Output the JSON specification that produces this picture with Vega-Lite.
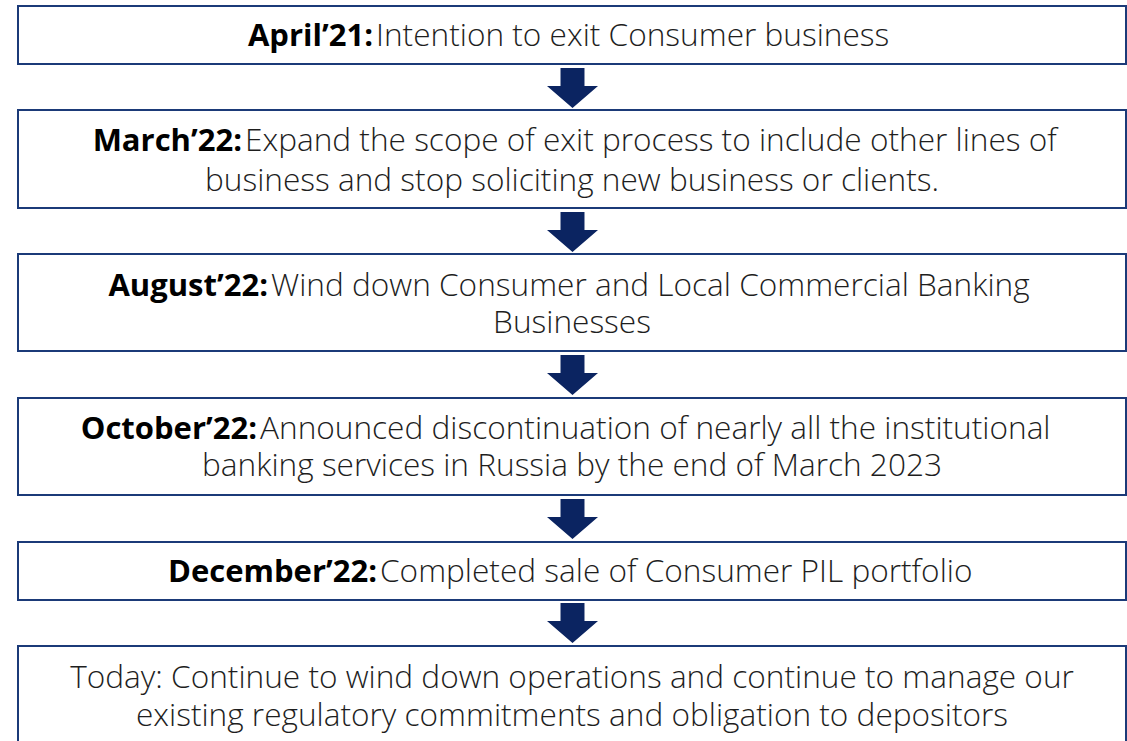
{
  "$schema": "https://vega.github.io/schema/vega-lite/v6.json",
  "width": 1127,
  "height": 741,
  "padding": 0,
  "autosize": {"type": "none"},
  "background": "white",
  "config": {"view": {"stroke": null}},
  "datasets": {
    "boxes": [
      {"x0": 18, "x1": 1126, "y0": 6, "y1": 64},
      {"x0": 18, "x1": 1126, "y0": 110, "y1": 208},
      {"x0": 18, "x1": 1126, "y0": 254, "y1": 351},
      {"x0": 18, "x1": 1126, "y0": 398, "y1": 495},
      {"x0": 18, "x1": 1126, "y0": 542, "y1": 600},
      {"x0": 18, "x1": 1126, "y0": 646, "y1": 770}
    ],
    "arrows": [
      {"x": 572.5, "y": 88},
      {"x": 572.5, "y": 232},
      {"x": 572.5, "y": 375},
      {"x": 572.5, "y": 519},
      {"x": 572.5, "y": 623}
    ],
    "bold": [
      {"x": 373, "y": 37, "label": "April’21:"},
      {"x": 242, "y": 142, "label": "March’22:"},
      {"x": 268, "y": 287, "label": "August’22:"},
      {"x": 257, "y": 430, "label": "October’22:"},
      {"x": 377, "y": 573, "label": "December’22:"}
    ],
    "plain": [
      {"x": 376, "y": 37, "label": "Intention to exit Consumer business"},
      {"x": 245, "y": 142, "label": "Expand the scope of exit process to include other lines of"},
      {"x": 271, "y": 287, "label": "Wind down Consumer and Local Commercial Banking"},
      {"x": 260, "y": 430, "label": "Announced discontinuation of nearly all the institutional"},
      {"x": 380, "y": 573, "label": "Completed sale of Consumer PIL portfolio"}
    ],
    "centered": [
      {"x": 572, "y": 182, "label": "business and stop soliciting new business or clients."},
      {"x": 572, "y": 324, "label": "Businesses"},
      {"x": 572, "y": 467, "label": "banking services in Russia by the end of March 2023"},
      {"x": 572, "y": 679, "label": "Today: Continue to wind down operations and continue to manage our"},
      {"x": 572, "y": 717, "label": "existing regulatory commitments and obligation to depositors"}
    ]
  },
  "layer": [
    {
      "data": {"name": "boxes"},
      "mark": {"type": "rect", "fill": "white", "stroke": "#1b3a78", "strokeWidth": 2, "clip": true},
      "encoding": {
        "x": {"field": "x0", "type": "quantitative", "scale": {"domain": [0, 1127], "nice": false, "zero": false}, "axis": null},
        "x2": {"field": "x1"},
        "y": {"field": "y0", "type": "quantitative", "scale": {"domain": [0, 741], "nice": false, "zero": false, "reverse": true}, "axis": null},
        "y2": {"field": "y1"}
      }
    },
    {
      "data": {"name": "arrows"},
      "mark": {
        "type": "point",
        "filled": true,
        "color": "#0b2461",
        "opacity": 1,
        "size": 2601,
        "shape": "M-0.47,-0.78L0.47,-0.78L0.47,-0.08L1,-0.08L0,0.78L-1,-0.08L-0.47,-0.08Z"
      },
      "encoding": {
        "x": {"field": "x", "type": "quantitative"},
        "y": {"field": "y", "type": "quantitative"}
      }
    },
    {
      "data": {"name": "bold"},
      "mark": {"type": "text", "align": "right", "baseline": "middle", "font": "Open Sans", "fontSize": 31, "fontWeight": "bold", "color": "black"},
      "encoding": {
        "x": {"field": "x", "type": "quantitative"},
        "y": {"field": "y", "type": "quantitative"},
        "text": {"field": "label"}
      }
    },
    {
      "data": {"name": "plain"},
      "mark": {"type": "text", "align": "left", "baseline": "middle", "font": "Open Sans", "fontSize": 31.6, "fontWeight": 300, "color": "#1e1e1e"},
      "encoding": {
        "x": {"field": "x", "type": "quantitative"},
        "y": {"field": "y", "type": "quantitative"},
        "text": {"field": "label"}
      }
    },
    {
      "data": {"name": "centered"},
      "mark": {"type": "text", "align": "center", "baseline": "middle", "font": "Open Sans", "fontSize": 31.6, "fontWeight": 300, "color": "#1e1e1e"},
      "encoding": {
        "x": {"field": "x", "type": "quantitative"},
        "y": {"field": "y", "type": "quantitative"},
        "text": {"field": "label"}
      }
    }
  ]
}
